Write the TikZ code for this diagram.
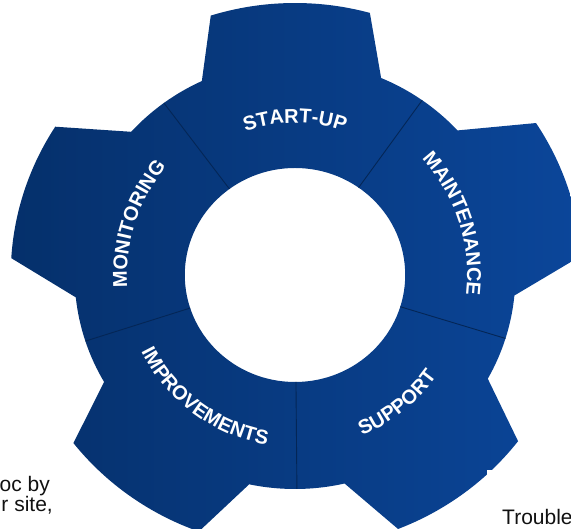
\documentclass[tikz,border=0pt]{standalone}
\usepackage{fontspec}
\setmainfont{Liberation Sans}
\newfontfamily\gearfont{Liberation Sans}[LetterSpace=7]
\usetikzlibrary{decorations.text}
\definecolor{gearlight}{HTML}{0B469A}
\definecolor{geardark}{HTML}{05306B}
\definecolor{gearseam}{HTML}{042656}
\definecolor{bodytext}{HTML}{111111}
\newcommand\gearlabelformat{\gearfont\bfseries\fontsize{20}{20}\selectfont\color{white}}

\begin{document}
\begin{tikzpicture}[x=1pt,y=1pt,
  seam/.style={draw=gearseam, line width=0.9pt},
  gearlabel/.style={decorate, decoration={text along path, text align=center,
      text={|\gearlabelformat|#1}}},
  paratext/.style={font=\fontsize{21}{21}\selectfont, text=bodytext, inner sep=0pt}]
\useasboundingbox (0,0) rectangle (571,529);

% gear body, slightly wider than tall
\begin{scope}[shift={(295,254)}, xscale=1.03]
  % tooth centre / tip radius / tip half-angle / next tooth centre
  \shade[even odd rule, left color=geardark, right color=gearlight]
    (-5.5:214pt) \foreach \c/\t/\h/\n in
      {18.5/279/14.5/91, 91/272/16.5/162, 162/276/14.5/234, 234/273/16/307, 307/273/15.5/378.5} {
      -- (\c-\h:\t pt) arc[start angle=\c-\h, end angle=\c+\h, radius=\t pt]
      -- (\c+24:214pt) arc[start angle=\c+24, end angle=\n-24, radius=214pt]
    } -- cycle
    (0,0) circle[radius=107pt];

  % seams between the five sectors
  \foreach \a in {54.75,126.5,198,270.5,342.75}
    \draw[seam] (\a:107pt) -- (\a:214pt);
\end{scope}

% sector labels: upper ones read clockwise, lower ones counter-clockwise
\begin{scope}[shift={(295,254)}]
  \path[gearlabel=START-UP]     (150:152pt) arc[start angle=150, end angle=30,  radius=152pt];
  \path[gearlabel=MAINTENANCE]  (78:172pt)  arc[start angle=78,  end angle=-42, radius=172pt];
  \path[gearlabel=MONITORING]   (222:168pt) arc[start angle=222, end angle=102, radius=168pt];
  \path[gearlabel=IMPROVEMENTS] (173.6:172pt) arc[start angle=173.6, end angle=293.6, radius=172pt];
  \path[gearlabel=SUPPORT]      (248.6:174pt) arc[start angle=248.6, end angle=368.6, radius=174pt];
\end{scope}

% surrounding body text
\node[paratext, anchor=base east] (lineA) at (50,37) {oc by};
\node[paratext, anchor=base east] (lineB) at (53,17) {r site,};
\fill[white] (487,59) rectangle (571,0);
\node[paratext, anchor=base west] (lineC) at (502,4) {Trouble};
\end{tikzpicture}
\end{document}
